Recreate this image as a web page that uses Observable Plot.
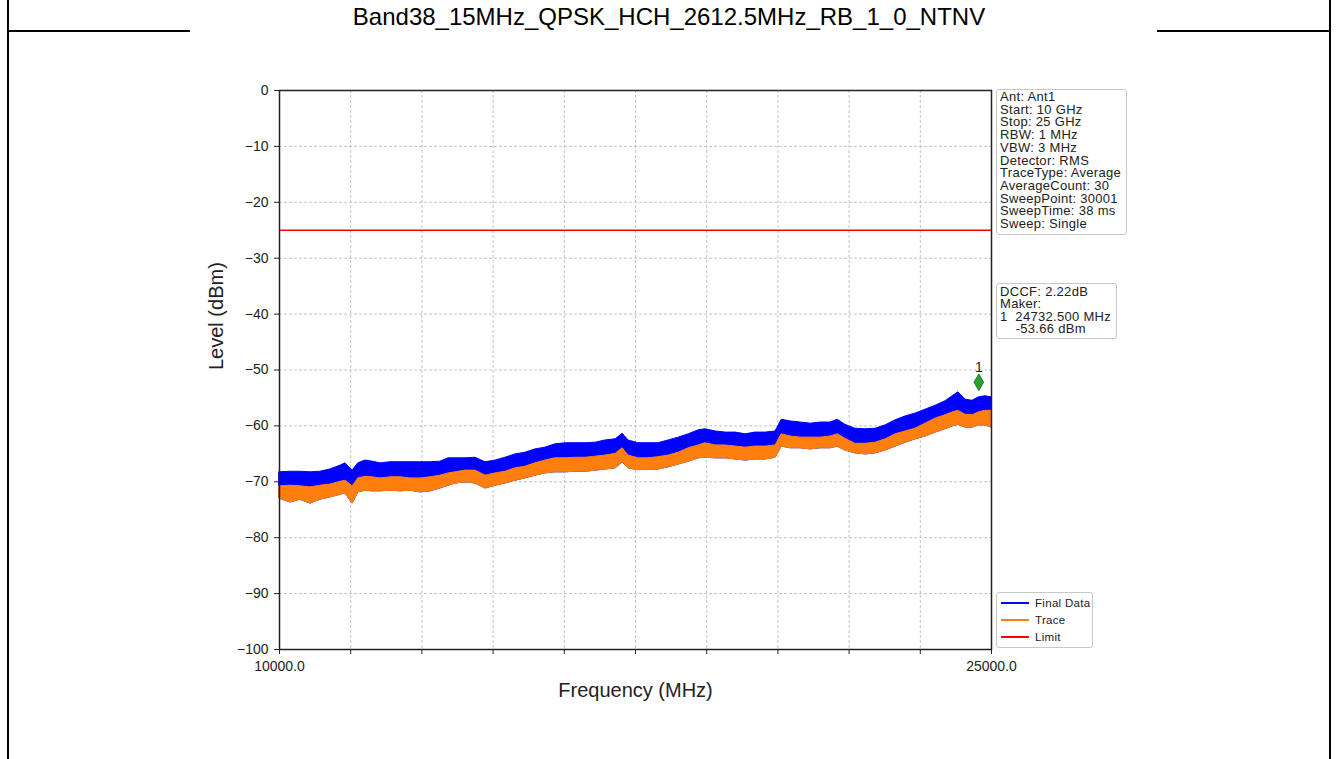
<!DOCTYPE html>
<html><head><meta charset="utf-8">
<script src="https://cdn.jsdelivr.net/npm/d3@7"></script>
<script src="https://cdn.jsdelivr.net/npm/@observablehq/plot@0.6"></script>
<style>
html,body{margin:0;padding:0;background:#fff;}
#page{position:relative;width:1338px;height:759px;overflow:hidden;font-family:"Liberation Sans",Arial,sans-serif;background:#fff;}
.vl{position:absolute;top:0;width:2px;height:759px;background:#000;}
.hl{position:absolute;top:30px;height:2px;background:#000;}
#title{position:absolute;left:8px;width:1322px;top:0;height:31px;line-height:33px;text-align:center;font-size:24px;color:#000;}
#chart{position:absolute;left:190px;top:31px;}
#chart svg, #chart svg text{font-family:"Liberation Sans",Arial,sans-serif !important;}
.box{position:absolute;background:#fff;border:1px solid #c8c8c8;border-radius:3px;box-sizing:border-box;color:#222;white-space:pre;font-size:13px;letter-spacing:0.3px;}
.lg{position:absolute;height:2px;width:28px;}
.lt{position:absolute;font-size:11.5px;color:#222;line-height:14px;}
</style></head><body>
<div id="page">
  <div class="vl" style="left:7px"></div>
  <div class="vl" style="left:1329px"></div>
  <div class="hl" style="left:7px;width:183px"></div>
  <div class="hl" style="left:1157px;width:174px"></div>
  <div id="title"></div>
  <div id="chart"></div>
  <div id="info1" class="box" style="left:996px;top:89px;width:131px;height:146px;padding:1px 0 0 3px;line-height:12.7px;"></div>
  <div id="info2" class="box" style="left:996px;top:283px;width:121px;height:56px;padding:2px 0 0 3px;line-height:12.4px;"></div>
  <div id="legend" class="box" style="left:996px;top:592px;width:97px;height:56px;"></div>
</div>
<script>
const titleText = "Band38_15MHz_QPSK_HCH_2612.5MHz_RB_1_0_NTNV";
const infoLines = ["Ant: Ant1","Start: 10 GHz","Stop: 25 GHz","RBW: 1 MHz","VBW: 3 MHz","Detector: RMS","TraceType: Average","AverageCount: 30","SweepPoint: 30001","SweepTime: 38 ms","Sweep: Single"];
const markerLines = ["DCCF: 2.22dB","Maker:","1  24732.500 MHz","    -53.66 dBm"];
const seriesNames = ["Final Data","Trace","Limit"];
const seriesColors = ["#0000ff","#ff7f0e","#ff0000"];

const xTicks = [10000,11500,13000,14500,16000,17500,19000,20500,22000,23500,25000];
const xTickLabels = ["10000.0","","","","","","","","","","25000.0"];
const yTicks = [0,-10,-20,-30,-40,-50,-60,-70,-80,-90,-100];
const yTickLabels = ["0","\u221210","\u221220","\u221230","\u221240","\u221250","\u221260","\u221270","\u221280","\u221290","\u2212100"];
const xLabel = "Frequency (MHz)";
const yLabel = "Level (dBm)";
const limitLevel = -25;
const markerFreq = 24732.5;
const markerLevel = -52.2;

const freqMHz = [10000,10230,10440,10650,10860,11070,11290,11390,11540,11660,11810,11960,12130,12340,12550,12760,12970,13180,13390,13560,13710,13920,14130,14340,14550,14760,14970,15180,15390,15600,15810,16030,16240,16450,16660,16870,17080,17230,17350,17560,17770,17980,18200,18410,18620,18830,18970,19190,19400,19610,19820,20030,20240,20450,20580,20770,20980,21190,21400,21610,21760,21920,22130,22350,22560,22770,22980,23190,23400,23610,23820,24030,24180,24300,24450,24600,24730,24870,25000];
const finalMax = [-68.3,-68.2,-68.2,-68.3,-68.2,-67.8,-67.1,-66.7,-68.0,-66.7,-66.2,-66.4,-66.7,-66.5,-66.5,-66.5,-66.5,-66.5,-66.4,-65.8,-65.8,-65.8,-65.7,-66.5,-66.2,-65.7,-65.1,-64.8,-64.2,-63.9,-63.3,-63.1,-63.1,-63.1,-63.0,-62.6,-62.4,-61.4,-62.6,-63.1,-63.1,-63.1,-62.6,-62.1,-61.5,-60.8,-60.6,-61.0,-61.2,-61.2,-61.5,-61.2,-61.2,-61.0,-58.9,-59.2,-59.4,-59.6,-59.4,-59.4,-58.9,-59.8,-60.5,-60.6,-60.5,-59.9,-59.0,-58.3,-57.8,-57.1,-56.4,-55.6,-54.7,-54.0,-55.3,-55.5,-54.9,-54.7,-54.9];
const traceMax = [-70.8,-70.7,-70.8,-71.0,-70.7,-70.5,-70.0,-69.8,-70.8,-69.4,-69.1,-69.2,-69.4,-69.2,-69.2,-69.4,-69.4,-69.2,-68.9,-68.5,-68.3,-68.0,-68.0,-68.9,-68.5,-68.2,-67.6,-67.3,-66.7,-66.2,-65.8,-65.8,-65.7,-65.7,-65.5,-65.3,-65.0,-64.0,-65.3,-65.8,-65.8,-65.6,-65.3,-64.8,-64.0,-63.5,-63.1,-63.5,-63.5,-63.7,-63.9,-63.7,-63.7,-63.5,-61.5,-61.9,-62.1,-62.1,-62.1,-61.9,-61.5,-62.3,-63.2,-63.2,-63.0,-62.4,-61.5,-61.0,-60.5,-59.6,-58.7,-58.1,-57.6,-57.3,-58.0,-58.1,-57.6,-57.3,-57.3];
const traceMin = [-73.0,-73.7,-73.2,-73.9,-73.2,-72.8,-72.3,-72.1,-73.9,-71.9,-71.6,-71.7,-71.7,-71.6,-71.7,-71.6,-71.9,-71.7,-71.2,-70.7,-70.3,-70.1,-70.3,-71.2,-70.7,-70.3,-69.8,-69.4,-68.9,-68.5,-68.3,-68.3,-68.2,-68.2,-68.0,-67.8,-67.6,-66.5,-67.6,-67.9,-67.9,-67.8,-67.4,-66.9,-66.4,-65.8,-65.7,-65.8,-65.8,-66.0,-66.2,-66.0,-66.0,-65.7,-63.7,-64.0,-64.0,-64.2,-64.0,-64.0,-63.7,-64.4,-64.9,-65.1,-64.9,-64.4,-63.7,-63.0,-62.4,-61.9,-61.2,-60.6,-60.1,-59.8,-60.3,-60.3,-59.9,-59.9,-60.3];

document.getElementById("title").textContent = titleText;
document.getElementById("info1").textContent = infoLines.join("\n");
document.getElementById("info2").textContent = markerLines.join("\n");
const lg = document.getElementById("legend");
seriesNames.forEach((n,i)=>{
  const y = 10 + i*17;
  const l = document.createElement("div"); l.className="lg";
  l.style.left="4px"; l.style.top=(y-1)+"px"; l.style.background=seriesColors[i];
  const t = document.createElement("div"); t.className="lt";
  t.style.left="38px"; t.style.top=(y-7)+"px"; t.textContent=n;
  lg.appendChild(l); lg.appendChild(t);
});

const rows = freqMHz.map((f,i)=>({f, fmax: finalMax[i], tmax: traceMax[i], tmin: traceMin[i]}));
const gridStyle = {stroke:"#c4c4c4", strokeOpacity:1, strokeDasharray:"3,2", strokeWidth:1};

const chart = Plot.plot({
  width: 967, height: 728,
  marginLeft: 89, marginRight: 166, marginTop: 59, marginBottom: 110,
  style: {fontFamily:"'Liberation Sans', Arial, sans-serif", fontSize:"14px", color:"#222", background:"transparent", overflow:"visible"},
  x: {domain:[10000,25000]},
  y: {domain:[-100,0]},
  marks: [
    Plot.gridX(xTicks.slice(1,-1), gridStyle),
    Plot.gridY(yTicks.slice(1,-1), gridStyle),
    Plot.areaY(rows, {x:"f", y1:"tmin", y2:"fmax", fill:seriesColors[0], stroke:seriesColors[0], strokeWidth:1}),
    Plot.areaY(rows, {x:"f", y1:"tmin", y2:"tmax", fill:seriesColors[1], stroke:seriesColors[1], strokeWidth:1}),
    Plot.ruleY([limitLevel], {stroke:seriesColors[2], strokeWidth:1.5}),
    Plot.dot([{f:markerFreq, v:markerLevel}], {x:"f", y:"v", symbol:"diamond", r:5, fill:"#2ca02c", stroke:"#1b7a1b", strokeWidth:1}),
    Plot.text([{f:markerFreq, v:markerLevel, l:"1"}], {x:"f", y:"v", text:"l", dy:-15, fontSize:14, fill:"#222"}),
    Plot.frame({stroke:"#222", strokeWidth:1.5}),
    Plot.axisX(xTicks, {tickFormat: d => xTickLabels[xTicks.indexOf(d)], tickSize:5, tickPadding:7, label:null, stroke:"#222", fontSize:14}),
    Plot.axisY(yTicks, {tickFormat: d => yTickLabels[yTicks.indexOf(d)], tickSize:5, tickPadding:6, label:null, stroke:"#222", fontSize:14}),
    Plot.text([yLabel], {frameAnchor:"left", dx:-63, rotate:-90, fontSize:20, fill:"#222"}),
    Plot.text([xLabel], {frameAnchor:"bottom", dy:47, fontSize:20, fill:"#222"})
  ]
});
document.getElementById("chart").appendChild(chart);
</script>
</body></html>
